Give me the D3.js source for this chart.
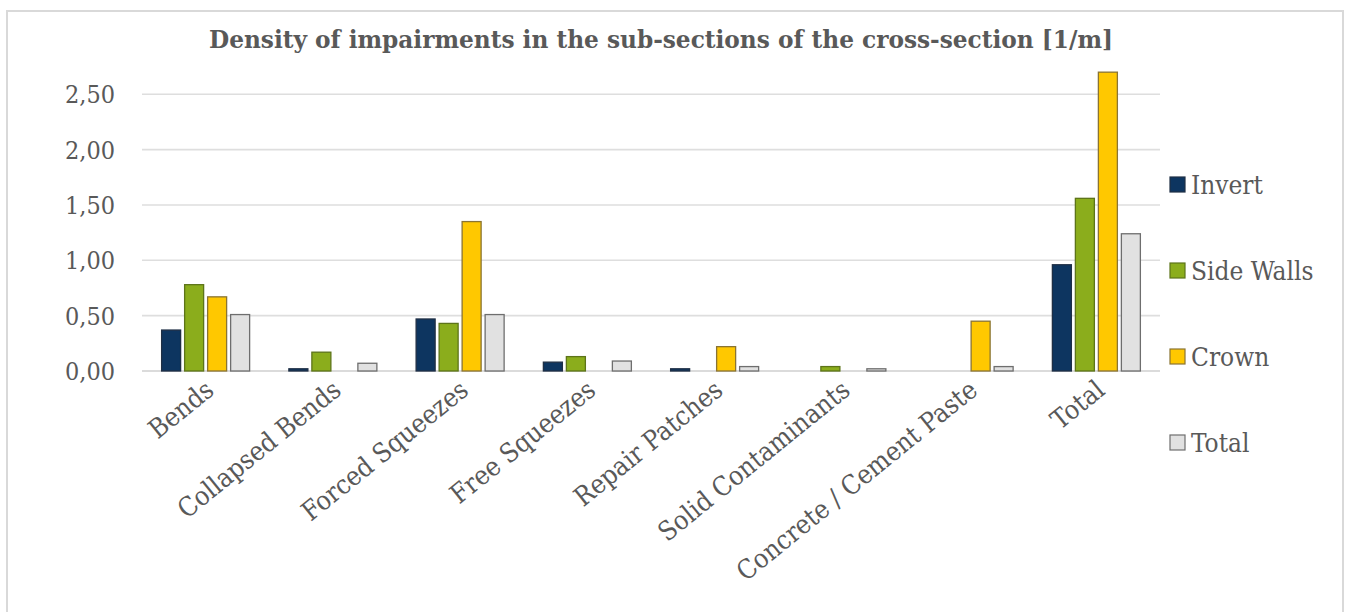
<!DOCTYPE html>
<html>
<head>
<meta charset="utf-8">
<script src="https://cdn.jsdelivr.net/npm/d3@7"></script>
<style>
  html, body { margin: 0; padding: 0; background: #fff; }
  svg { display: block; }
  text { font-family: "DejaVu Serif Condensed", "DejaVu Serif", serif; font-stretch: condensed; fill: #595959; }
</style>
</head>
<body>
<svg id="chart" width="1347" height="612"></svg>
<script>
// Impairment categories along the tunnel
const categories = ["Bends", "Collapsed Bends", "Forced Squeezes", "Free Squeezes",
  "Repair Patches", "Solid Contaminants", "Concrete / Cement Paste", "Total"];

// Density per sub-section of the cross-section [1/m]
const invert    = [0.37, 0.02, 0.47, 0.08, 0.02, 0.00, 0.00, 0.96];
const sideWalls = [0.78, 0.17, 0.43, 0.13, 0.00, 0.04, 0.00, 1.56];
const crown     = [0.67, 0.00, 1.35, 0.00, 0.22, 0.00, 0.45, 2.70];
const total     = [0.51, 0.07, 0.51, 0.09, 0.04, 0.02, 0.04, 1.24];

const seriesNames = ["Invert", "Side Walls", "Crown", "Total"];
const seriesValues = [invert, sideWalls, crown, total];
const yTicks = [0, 0.5, 1.0, 1.5, 2.0, 2.5];

const fills   = ["#0d3560", "#8bad1c", "#ffc800", "#e1e1e1"];
const strokes = ["#1f2f45", "#5d7419", "#8a7433", "#6e6e6e"];

const svg = d3.select("#chart");

// outer chart frame
svg.append("rect")
  .attr("x", 7).attr("y", 11).attr("width", 1336).attr("height", 640)
  .attr("fill", "#fff").attr("stroke", "#d9d9d9").attr("stroke-width", 2);

const plot = { left: 142, right: 1160, top: 40, bottom: 371 };

const x0 = d3.scaleBand().domain(categories).range([plot.left, plot.right]).padding(0);
const groupW = 92;
const x1 = d3.scaleBand().domain(seriesNames).range([0, groupW])
  .paddingInner(4 / 23).paddingOuter(2 / 23);
const y = d3.scaleLinear().domain([0, 2.5]).range([plot.bottom, 94.3]);

// horizontal gridlines
svg.append("g").selectAll("line").data(yTicks).join("line")
  .attr("x1", plot.left).attr("x2", plot.right)
  .attr("y1", d => y(d)).attr("y2", d => y(d))
  .attr("stroke", d => d === 0 ? "#cfcfcf" : "#dedede")
  .attr("stroke-width", 1.6);

// y axis labels
const fmt = d => d3.format(".2f")(d).replace(".", ",");
svg.append("g").selectAll("text").data(yTicks).join("text")
  .attr("x", 115).attr("y", d => y(d))
  .attr("dy", "0.36em")
  .attr("text-anchor", "end")
  .attr("font-size", 25)
  .text(fmt);

// grouped bars
const groups = svg.append("g").selectAll("g").data(categories).join("g")
  .attr("transform", d => `translate(${x0(d) + (x0.bandwidth() - groupW) / 2},0)`);

groups.selectAll("rect")
  .data((c, ci) => seriesNames.map((s, si) => ({ s, si, v: seriesValues[si][ci] })))
  .join("rect")
  .filter(d => d.v > 0)
  .attr("x", d => x1(d.s))
  .attr("y", d => y(d.v))
  .attr("width", x1.bandwidth())
  .attr("height", d => y(0) - y(d.v))
  .attr("fill", d => fills[d.si])
  .attr("stroke", d => strokes[d.si])
  .attr("stroke-width", 1.3);

// category labels, rotated
svg.append("g").selectAll("text").data(categories).join("text")
  .attr("transform", d => `translate(${x0(d) + x0.bandwidth() / 2 + 10},${plot.bottom + 22}) rotate(-39)`)
  .attr("text-anchor", "end")
  .attr("font-size", 26.5)
  .text(d => d);

// title
svg.append("text")
  .attr("x", 661).attr("y", 48)
  .attr("text-anchor", "middle")
  .attr("font-size", 24)
  .attr("font-weight", "bold")
  .attr("textLength", 904)
  .attr("lengthAdjust", "spacingAndGlyphs")
  .text("Density of impairments in the sub-sections of the cross-section [1/m]");

// legend
const legend = svg.append("g").selectAll("g").data(seriesNames).join("g")
  .attr("transform", (d, i) => `translate(1170,${185 + i * 86})`);
legend.append("rect")
  .attr("x", 0).attr("y", -8).attr("width", 15).attr("height", 15)
  .attr("fill", (d, i) => fills[i]).attr("stroke", (d, i) => strokes[i]).attr("stroke-width", 1.2);
legend.append("text")
  .attr("x", 21).attr("y", 0).attr("dy", "0.36em")
  .attr("font-size", 26)
  .text(d => d);
</script>
</body>
</html>
